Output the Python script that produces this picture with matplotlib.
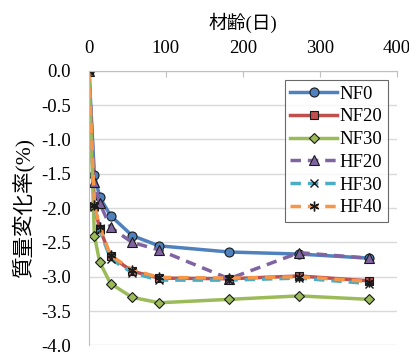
import matplotlib.pyplot as plt

plt.rcParams['font.family'] = ['Liberation Serif', 'Noto Sans CJK JP']

# 材齢(日)
days = [0, 7, 14, 28, 56, 91, 182, 273, 364]

# 質量変化率(%)
nf0 = [0, -1.52, -1.84, -2.11, -2.40, -2.55, -2.64, -2.67, -2.73]
nf20 = [0, -1.97, -2.30, -2.70, -2.92, -3.02, -3.03, -2.99, -3.06]
nf30 = [0, -2.40, -2.79, -3.10, -3.30, -3.38, -3.33, -3.28, -3.33]
hf20 = [0, -1.62, -1.93, -2.28, -2.50, -2.61, -3.03, -2.65, -2.73]
hf30 = [0, -1.98, -2.32, -2.74, -2.94, -3.05, -3.05, -3.02, -3.10]
hf40 = [0, -1.96, -2.28, -2.69, -2.90, -3.01, -3.02, -3.00, -3.07]

fig = plt.figure(figsize=(4.1, 3.56), dpi=100)
ax = fig.add_axes([0.217, 0.03, 0.751, 0.771])

ax.plot(days, nf0, '-', color='#4F81BD', lw=2.5, marker='o', ms=6.5,
        mfc='#4F81BD', mec='#1a1a1a', mew=0.8, label='NF0')
ax.plot(days, nf20, '-', color='#C0504D', lw=2.5, marker='s', ms=6,
        mfc='#C0504D', mec='#1a1a1a', mew=0.8, label='NF20')
ax.plot(days, nf30, '-', color='#9BBB59', lw=2.5, marker='D', ms=5,
        mfc='#9BBB59', mec='#1a1a1a', mew=0.8, label='NF30')
ax.plot(days, hf20, '--', color='#8064A2', lw=2.5, dashes=(3, 2), marker='^', ms=6.5,
        mfc='#8064A2', mec='#1a1a1a', mew=0.8, label='HF20')
ax.plot(days, hf30, '--', color='#4BACC6', lw=2.5, dashes=(3, 2), marker='x', ms=6,
        mec='#1a1a1a', mew=1.0, label='HF30')
ax.plot(days, hf40, '--', color='#F79646', lw=2.5, dashes=(3, 2), marker=(6, 2, 0), ms=7,
        mec='#1a1a1a', mew=1.0, label='HF40')

ax.set_xlim(0, 400)
ax.set_ylim(-4.0, 0.0)
ax.set_xticks([0, 100, 200, 300, 400])
ax.set_yticks([0, -0.5, -1.0, -1.5, -2.0, -2.5, -3.0, -3.5, -4.0])
ax.set_yticklabels(['0.0', '-0.5', '-1.0', '-1.5', '-2.0', '-2.5', '-3.0', '-3.5', '-4.0'])

ax.xaxis.tick_top()
ax.xaxis.set_label_position('top')
ax.tick_params(axis='x', direction='in', length=4, color='#bfbfbf', labelsize=13.5, pad=10)
ax.tick_params(axis='y', length=0, labelsize=13.5, pad=13)
ax.set_xlabel('材齢(日)', fontsize=13.5, labelpad=8)
ax.set_ylabel('質量変化率(%)', fontsize=15.5, labelpad=5)

ax.grid(axis='y', color='#d9d9d9', lw=1)
ax.set_axisbelow(True)
for side in ['right', 'bottom']:
    ax.spines[side].set_visible(False)
ax.spines['left'].set_color('#bfbfbf')
ax.spines['top'].set_color('#bfbfbf')

leg = ax.legend(loc='upper right', bbox_to_anchor=(0.972, 0.967), fontsize=13.5,
                frameon=True, fancybox=False, edgecolor='#444444',
                handlelength=2.5, handletextpad=0.15, labelspacing=0.3,
                borderpad=0.3, borderaxespad=0)
leg.get_frame().set_linewidth(0.8)

fig.savefig('out.png', dpi=100)
